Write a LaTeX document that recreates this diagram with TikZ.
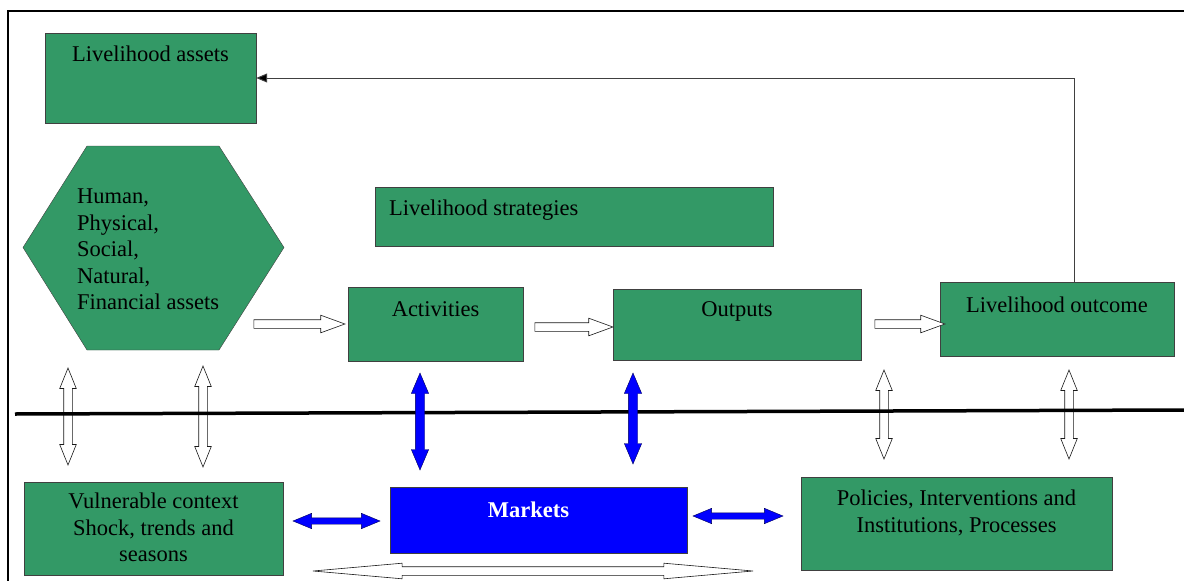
\documentclass[tikz,border=0pt]{standalone}
\usepackage{fontspec}
\setmainfont{Liberation Serif}
\usetikzlibrary{shapes.arrows,arrows.meta}
\definecolor{lhgreen}{HTML}{339966}
\definecolor{lhblue}{HTML}{0000FF}
\begin{document}
\begin{tikzpicture}[x=1pt,y=-1pt,
		box/.style={draw=black!75,fill=lhgreen,inner sep=0pt},
		txt/.style={font=\fontsize{22.5}{26.5}\selectfont,inner sep=0pt,align=center},
		hollow/.style={single arrow,draw=black!90,line width=0.6pt,fill=white,inner xsep=0pt,inner ysep=4pt,minimum width=0pt,single arrow head extend=4.5pt,single arrow tip angle=40},
		hollowdbl/.style={double arrow,draw=black!90,line width=0.6pt,fill=white,inner xsep=0pt,inner ysep=4pt,minimum width=0pt,double arrow head extend=4pt,double arrow tip angle=44,rotate=90},
		bluedbl/.style={double arrow,draw=blue!35!black,fill=lhblue,inner xsep=0pt,inner ysep=4.5pt,minimum width=0pt,double arrow head extend=4pt,double arrow tip angle=46}]
	\useasboundingbox (0,0) rectangle (1184,581);
	\node[box,minimum width=211pt,minimum height=90pt,label={[txt,below=12.5pt]north:Livelihood assets}] (assets) at (150.5,78) {};
	\node[box,minimum width=398pt,minimum height=59pt,label={[txt,anchor=north west,xshift=14pt,yshift=-13pt]north west:Livelihood strategies}] (strategies) at (574,216.5) {};
	\node[box,minimum width=175pt,minimum height=74pt,label={[txt,below=15pt]north:Activities}] (activities) at (435.5,324) {};
	\node[box,minimum width=248pt,minimum height=71pt,label={[txt,below=13pt]north:Outputs}] (outputs) at (737,324.5) {};
	\node[box,minimum width=234pt,minimum height=74pt,label={[txt,below=15pt]north:Livelihood outcome}] (outcome) at (1057,319) {};
	\node[box,minimum width=259pt,minimum height=93pt,label={[txt,below=11pt]north:{Vulnerable context\\Shock, trends and\\seasons}}] (context) at (153.5,528.5) {};
	\node[box,draw=black!75,fill=lhblue,minimum width=297pt,minimum height=66pt,label={[txt,text=white,font=\fontsize{22.5}{26.5}\selectfont\bfseries,below=15pt,xshift=-10pt]north:Markets}] (markets) at (538.5,520) {};
	\node[box,minimum width=311pt,minimum height=93pt,label={[txt,below=13pt]north:{Policies, Interventions and\\Institutions, Processes}}] (policies) at (956.5,523.5) {};
	\draw[box] (87,146) -- (219,146) -- (284,247.5) -- (219,350) -- (87,350) -- (23,247.5) -- cycle;
	\node[txt,align=left,anchor=north west] (capitals) at (77,189) {Human,\\Physical,\\Social,\\Natural,\\Financial assets};
	\node[hollow,minimum height=91pt] (capact) at (293.5,324) {};
	\node[hollow,minimum height=78pt] (actout) at (568,327) {};
	\node[hollow,minimum height=70pt] (outres) at (904,324) {};
	\node[hollowdbl,minimum height=97pt] (vulnA) at (68,416.5) {};
	\node[hollowdbl,minimum height=101pt] (vulnB) at (203,416.5) {};
	\node[hollowdbl,minimum height=89pt] (polA) at (884,414.5) {};
	\node[hollowdbl,minimum height=89pt] (polB) at (1069,414.5) {};
	\node[double arrow,draw=black!90,line width=0.6pt,fill=white,inner xsep=0pt,inner ysep=4pt,minimum width=0pt,double arrow head extend=3.5pt,double arrow tip angle=10,minimum height=440pt] (trade) at (533,571) {};
	\draw[line width=3.5pt] (15,414) -- (1184,410);
	\node[bluedbl,rotate=90,minimum height=97pt] (actmkt) at (420,421.5) {};
	\node[bluedbl,rotate=90,minimum height=91pt] (outmkt) at (633,418.5) {};
	\node[bluedbl,inner ysep=3pt,double arrow head extend=4.5pt,double arrow tip angle=45,minimum height=87pt] (ctxmkt) at (336.5,521) {};
	\node[bluedbl,inner ysep=3pt,double arrow head extend=4.5pt,double arrow tip angle=45,minimum height=90pt] (mktpol) at (738,516) {};
	\draw[black!75,line width=1pt,-{Triangle[length=11pt,width=9pt,fill=black]}] ([xshift=17pt]outcome.north) |- (assets.east);
	\draw[line width=2pt] (8,581) -- (8,10.5) -- (1184,10.5);
\end{tikzpicture}
\end{document}
